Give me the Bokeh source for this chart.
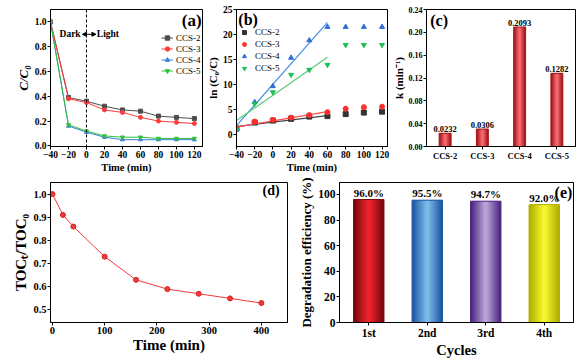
from bokeh.plotting import figure
from bokeh.layouts import row, column
from bokeh.models import (Range1d, FactorRange, Label, Span, Arrow, NormalHead,
                          ColumnDataSource, PrintfTickFormatter)
from bokeh.embed import file_html
from bokeh.resources import INLINE
from bokeh.core.properties import value

FONT = "Liberation Serif"

# ---------------- data ----------------
# (a) C/C0 vs time
time_a = [-40, -20, 0, 20, 40, 60, 80, 100, 120]
cc_ccs2 = [1.0, 0.39, 0.36, 0.32, 0.29, 0.28, 0.24, 0.23, 0.22]
cc_ccs3 = [1.0, 0.38, 0.35, 0.29, 0.27, 0.23, 0.20, 0.19, 0.18]
cc_ccs4 = [1.0, 0.16, 0.11, 0.07, 0.05, 0.05, 0.05, 0.05, 0.05]
cc_ccs5 = [1.0, 0.17, 0.12, 0.08, 0.07, 0.07, 0.06, 0.06, 0.06]

# (b) ln(C0/C) vs time
time_b = [-40, -20, 0, 20, 40, 60, 80, 100, 120]
ln_ccs2 = [1.2, 2.4, 2.8, 3.15, 3.6, 3.7, 4.1, 4.4, 4.6]
ln_ccs3 = [1.2, 2.6, 2.95, 3.4, 3.9, 4.5, 5.2, 5.5, 5.6]
ln_ccs4 = [1.1, 6.5, 9.7, 15.4, 18.9, 21.6, 21.6, 21.6, 21.6]
ln_ccs5 = [1.0, 6.2, 8.5, 12.0, 13.0, 14.0, 18.0, 18.0, 18.0]
fit_time = [-40, 60]
fit_ccs2 = [1.6, 3.8]
fit_ccs3 = [1.5, 4.6]
fit_ccs4 = [1.8, 22.5]
fit_ccs5 = [2.8, 15.5]

# (c) rate constants
samples = ["CCS-2", "CCS-3", "CCS-4", "CCS-5"]
k_values = [0.0232, 0.0306, 0.2093, 0.1282]

# (d) TOC removal
time_d = [0, 20, 40, 100, 160, 220, 280, 340, 400]
toc_ratio = [1.0, 0.91, 0.86, 0.73, 0.63, 0.59, 0.57, 0.55, 0.53]

# (e) recycling
cycles = ["1st", "2nd", "3rd", "4th"]
efficiency = [96.0, 95.5, 94.7, 92.0]

# tick values
ticks_time = [-40, -20, 0, 20, 40, 60, 80, 100, 120]
ticks_a_y = [0.0, 0.2, 0.4, 0.6, 0.8, 1.0]
ticks_b_y = [0, 5, 10, 15, 20, 25]
ticks_c_y = [0.00, 0.04, 0.08, 0.12, 0.16, 0.20, 0.24]
ticks_d_x = [0, 100, 200, 300, 400]
ticks_d_y = [0.5, 0.6, 0.7, 0.8, 0.9, 1.0]
ticks_e_y = [0, 20, 40, 60, 80, 100]


def mix(c1, c2, t):
    a = [int(c1[i:i + 2], 16) for i in (1, 3, 5)]
    b = [int(c2[i:i + 2], 16) for i in (1, 3, 5)]
    return "#%02x%02x%02x" % tuple(round(a[k] + (b[k] - a[k]) * t) for k in range(3))


def base(width, height, xr, yr, bl, br, bt, bb, tick_fs, title_fs):
    p = figure(width=width, height=height, x_range=xr, y_range=yr,
               output_backend="svg", toolbar_location=None,
               min_border_left=bl, min_border_right=br,
               min_border_top=bt, min_border_bottom=bb)
    p.xgrid.visible = False
    p.ygrid.visible = False
    p.outline_line_color = "black"
    p.outline_line_alpha = 1
    p.outline_line_width = 1
    p.background_fill_color = "white"
    p.border_fill_color = "white"
    for ax in p.axis:
        ax.axis_line_color = "black"
        ax.major_tick_line_color = "black"
        ax.major_tick_out = 3
        ax.major_tick_in = 0
        ax.minor_tick_out = 0
        ax.minor_tick_in = 0
        ax.major_label_standoff = 1
        ax.axis_label_standoff = 1
        ax.major_label_text_font = FONT
        ax.major_label_text_font_style = "bold"
        ax.major_label_text_font_size = tick_fs
        ax.major_label_text_color = "black"
        ax.axis_label_text_font = FONT
        ax.axis_label_text_font_style = "bold"
        ax.axis_label_text_font_size = title_fs
        ax.axis_label_text_color = "black"
    return p


def panel_label(p, text, x, y, align, size="16px"):
    p.add_layout(Label(x=x, y=y, text=text, text_align=align, text_baseline="top",
                       text_font=FONT, text_font_style="bold", text_font_size=size,
                       text_color="black"))


def style_legend(lg, loc, gw, gh, standoff):
    lg.location = loc
    lg.border_line_color = None
    lg.background_fill_alpha = 0
    lg.padding = 0
    lg.margin = 0
    lg.spacing = 0
    lg.glyph_width = gw
    lg.glyph_height = gh
    lg.label_height = gh
    lg.label_standoff = standoff
    lg.label_text_font = FONT
    lg.label_text_font_size = "9px"
    lg.label_text_color = "black"


def gradient_vbar(p, xs, tops, width, edges, mids, n=8):
    for i in range(n):
        t = i / (n - 1)
        w = width * (1 - i / n)
        colors = [mix(e, m, t) for e, m in zip(edges, mids)]
        src = ColumnDataSource(dict(x=xs, top=tops, c=colors))
        p.vbar(x="x", top="top", bottom=0, width=w, fill_color="c", line_color=None, source=src)
    src = ColumnDataSource(dict(x=xs, top=tops, c=edges))
    p.vbar(x="x", top="top", bottom=0, width=width, fill_color=None, line_color="c",
           line_width=1, source=src)


# ---------------- (a) ----------------
pa = base(203, 175, Range1d(-40, 129), Range1d(-0.005, 1.1), 50, 1, 9, 26, "9.5px", "10.5px")
pa.xaxis.ticker = ticks_time
pa.yaxis.ticker = ticks_a_y
pa.yaxis.formatter = PrintfTickFormatter(format="%.1f")
pa.xaxis.axis_label = "Time (min)"
pa.yaxis.axis_label = "C/C\u2080"
pa.yaxis.axis_label_text_font_style = "bold italic"
pa.yaxis.axis_label_text_font_size = "13px"
series_a = [("CCS-2", cc_ccs2, "#4d4d4d", "square"),
            ("CCS-3", cc_ccs3, "#ff3b3b", "circle"),
            ("CCS-4", cc_ccs4, "#3d7fdc", "triangle"),
            ("CCS-5", cc_ccs5, "#2fc23a", "inverted_triangle")]
for name, ys, col, mk in series_a:
    pa.line(time_a, ys, line_color=col, line_width=1, legend_label=name)
    pa.scatter(time_a, ys, marker=mk, size=4, fill_color=col, line_color=col, legend_label=name)
pa.add_layout(Span(location=0, dimension="height", line_dash="3 2", line_color="black", line_width=1))
pa.add_layout(Label(x=-6.5, y=0.90, text="Dark", text_align="right", text_baseline="middle",
                    text_font=FONT, text_font_style="bold", text_font_size="9.5px", text_color="black"))
pa.add_layout(Label(x=11.5, y=0.90, text="Light", text_align="left", text_baseline="middle",
                    text_font=FONT, text_font_style="bold", text_font_size="9.5px", text_color="black"))
pa.add_layout(Arrow(start=NormalHead(size=4, fill_color="black", line_color="black"),
                    end=NormalHead(size=4, fill_color="black", line_color="black"),
                    x_start=-4.5, x_end=10.5, y_start=0.90, y_end=0.90,
                    line_color="black", line_width=1))
panel_label(pa, "(a)", 128, 1.085, "right", "17px")
style_legend(pa.legend[0], (111, 70), 12, 11, 3)

# ---------------- (b) ----------------
pb = base(186, 175, Range1d(-40, 126), Range1d(-2.4, 25.1), 30, 2, 9, 26, "9.5px", "10.5px")
pb.xaxis.ticker = ticks_time
pb.yaxis.ticker = ticks_b_y
pb.xaxis.axis_label = "Time (min)"
pb.yaxis.axis_label = "ln (C\u2080/C)"
pb.yaxis.axis_label_text_font_size = "11px"
series_b = [("CCS-2", ln_ccs2, fit_ccs2, "#333333", "#444444", "square"),
            ("CCS-3", ln_ccs3, fit_ccs3, "#ff2f2f", "#ff4a4a", "circle"),
            ("CCS-4", ln_ccs4, fit_ccs4, "#2f6fd6", "#4a8fe6", "triangle"),
            ("CCS-5", ln_ccs5, fit_ccs5, "#1fbf5a", "#5cc878", "inverted_triangle")]
for name, ys, fit, col, fcol, mk in series_b:
    pb.line(fit_time, fit, line_color=fcol, line_width=1.2)
    pb.scatter(time_b, ys, marker=mk, size=5, fill_color=col, line_color=col, legend_label=name)
panel_label(pb, "(b)", -38, 24.7, "left", "16px")
style_legend(pb.legend[0], (3, 72), 10, 12, 6)

# ---------------- (c) ----------------
pc = base(194, 175, FactorRange(factors=samples), Range1d(0, 0.24), 29, 8, 9, 26, "8px", "11px")
pc.yaxis.ticker = ticks_c_y
pc.yaxis.formatter = PrintfTickFormatter(format="%.2f")
pc.xaxis.major_label_text_font_size = "8.5px"
pc.yaxis.axis_label = "k (min\u207b\u00b9)"
gradient_vbar(pc, samples, k_values, 0.32, ["#a3151a"] * 4, ["#f76a6e"] * 4)
pc.text(x=samples, y=k_values, text=["%.4f" % v for v in k_values],
        text_align="center", text_baseline="bottom", y_offset=-1,
        text_font=value(FONT), text_font_style="bold", text_font_size="8.5px", text_color="black")
panel_label(pc, "(c)", 0.1, 0.236, "left", "16px")

# ---------------- (d) ----------------
pd_ = base(296, 185, Range1d(-3.8, 450), Range1d(0.446, 1.05), 50, 9, 7, 32, "10.5px", "15px")
pd_.xaxis.ticker = ticks_d_x
pd_.yaxis.ticker = ticks_d_y
pd_.yaxis.formatter = PrintfTickFormatter(format="%.1f")
pd_.xaxis.axis_label = "Time (min)"
pd_.yaxis.axis_label = "TOC\u209c/TOC\u2080"
pd_.xaxis.axis_label_standoff = 0
pd_.line(time_d, toc_ratio, line_color="#f03a3a", line_width=1)
pd_.scatter(time_d, toc_ratio, marker="circle", size=5, fill_color="#f03a3a", line_color="#d82020")
panel_label(pd_, "(d)", 435, 1.046, "right", "14px")

# ---------------- (e) ----------------
pe = base(287, 185, FactorRange(factors=cycles), Range1d(0, 109.3), 40, 10, 7, 32, "11.5px", "13px")
pe.yaxis.ticker = ticks_e_y
pe.xaxis.major_label_text_font_size = "11.5px"
pe.xaxis.axis_label = "Cycles"
pe.xaxis.axis_label_text_font_size = "14.5px"
pe.xaxis.axis_label_standoff = 0
pe.yaxis.axis_label = "Degradation efficiency (%)"
gradient_vbar(pe, cycles, efficiency, 0.52,
              ["#7a0a0e", "#1f58a4", "#4f2886", "#b0b000"],
              ["#f2222c", "#7cbaea", "#b8a2d6", "#f6f62e"])
pe.text(x=cycles, y=efficiency, text=["%.1f%%" % v for v in efficiency],
        text_align="center", text_baseline="bottom", y_offset=-1,
        text_font=value(FONT), text_font_style="bold", text_font_size="11px", text_color="black")
panel_label(pe, "(e)", 3.98, 108.5, "right", "16px")

layout = column(row(pa, pb, pc), row(pd_, pe))
open("out.html", "w").write(file_html(layout, INLINE))
